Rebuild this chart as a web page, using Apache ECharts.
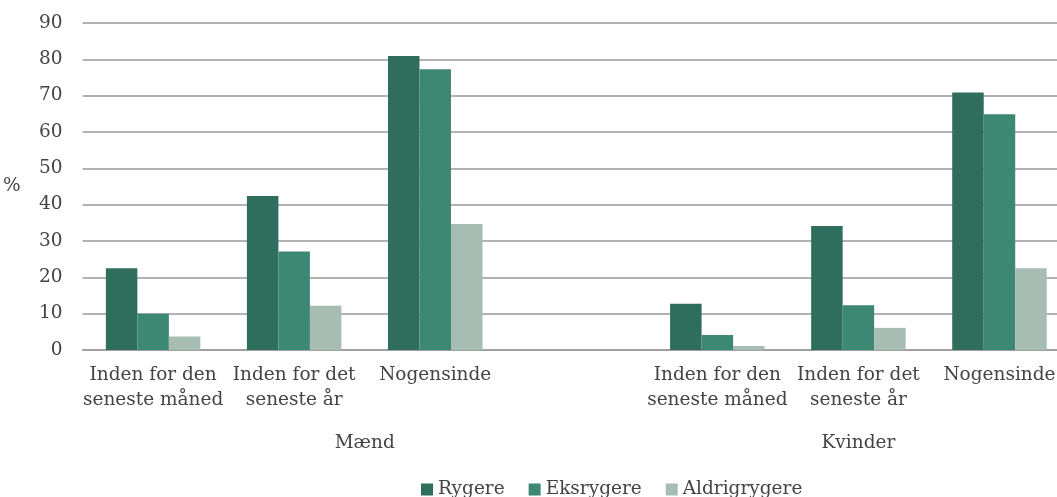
<!DOCTYPE html>
<html>
<head>
<meta charset="utf-8">
<script src="https://cdn.jsdelivr.net/npm/echarts@6/dist/echarts.min.js"></script>
<style>
html,body{margin:0;padding:0;background:#fff;overflow:hidden;}
#c{width:1070px;height:497px;}
</style>
</head>
<body>
<div id="c"></div>
<script>
const categories = ['Inden for den\nseneste måned','Inden for det\nseneste år','Nogensinde','', 'Inden for den\nseneste måned','Inden for det\nseneste år','Nogensinde'];
const groups = [{name:'Mænd', from:0, to:3}, {name:'Kvinder', from:4, to:6}];
const seriesNames = ['Rygere','Eksrygere','Aldrigrygere'];
const rygere = [22.5, 42.4, 80.9, '-', 12.7, 34.1, 70.9];
const eksrygere = [10.0, 27.1, 77.3, '-', 4.1, 12.3, 64.9];
const aldrigrygere = [3.7, 12.2, 34.7, '-', 1.1, 6.1, 22.5];
const yTicks = {min:0, max:90, interval:10};
const colors = ['#2f6e5d','#3c8872','#a7bdb4'];
const FONT = 'DejaVu Serif';
const TXT = '#444';
const FS = 18.5;

const chart = echarts.init(document.getElementById('c'));
const vals = [rygere, eksrygere, aldrigrygere];
chart.setOption({
  animation:false,
  textStyle:{fontFamily:FONT},
  grid:{left:82, right:0, top:23, bottom:147, containLabel:false},
  legend:{
    left:421, top:480, padding:0, itemWidth:12, itemHeight:12, itemGap:24, icon:'rect',
    textStyle:{fontFamily:FONT, fontSize:FS, color:TXT},
    data:seriesNames
  },
  xAxis:{
    type:'category', data:categories,
    axisTick:{show:false},
    axisLine:{lineStyle:{color:'#9a9a9a', width:1.5}},
    axisLabel:{interval:0, fontFamily:FONT, fontSize:FS, lineHeight:25, color:TXT, margin:13}
  },
  yAxis:{
    type:'value', min:yTicks.min, max:yTicks.max, interval:yTicks.interval,
    name:'%', nameLocation:'middle', nameRotate:0, nameGap:62,
    nameTextStyle:{fontFamily:FONT, fontSize:FS, color:TXT},
    axisLine:{show:false}, axisTick:{show:false},
    axisLabel:{fontFamily:FONT, fontSize:FS, color:TXT, margin:20},
    splitLine:{lineStyle:{color:'#9a9a9a', width:1.5}}
  },
  series: seriesNames.map((n,i)=>({
    name:n, type:'bar', data:vals[i], barGap:'0%', barCategoryGap:'33%',
    itemStyle:{color:colors[i]}
  }))
});

function placeGroups(){
  const g = groups.map(gr=>{
    const a = chart.convertToPixel({xAxisIndex:0}, gr.from);
    const b = chart.convertToPixel({xAxisIndex:0}, gr.to);
    const y = chart.convertToPixel({yAxisIndex:0}, 0);
    return {type:'text', x:(a+b)/2, y:y+93, style:{text:gr.name, fill:TXT, font:FS+'px "'+FONT+'"', textAlign:'center', textVerticalAlign:'middle'}};
  });
  chart.setOption({graphic:g});
}
placeGroups();
</script>
</body>
</html>
